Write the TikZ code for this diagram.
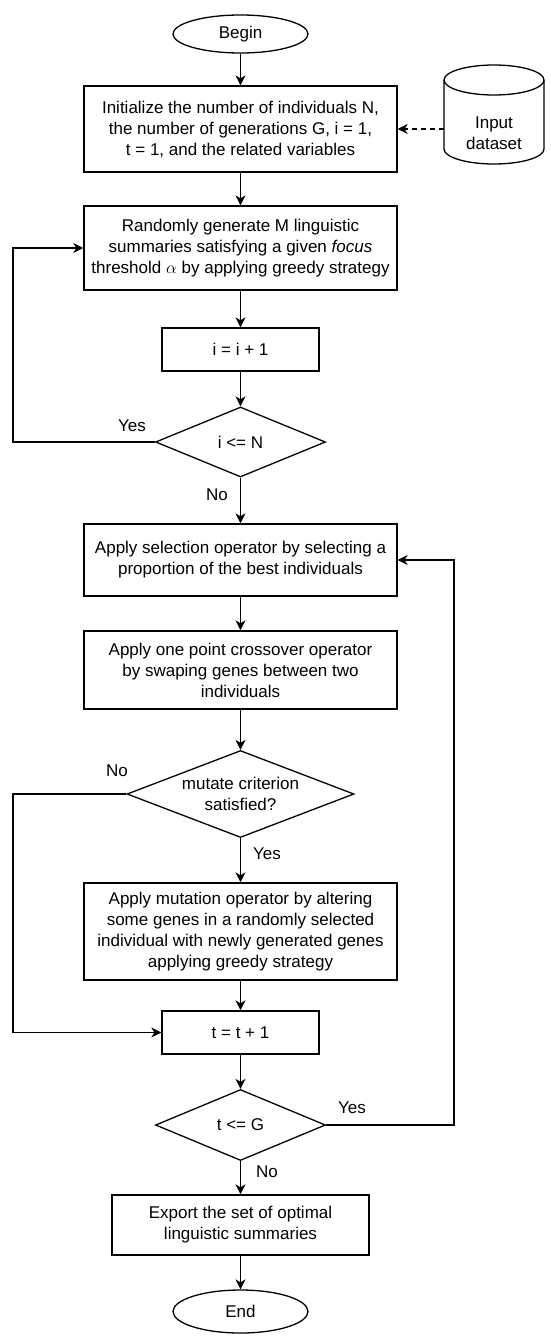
\documentclass[tikz,border=0pt]{standalone}
\usepackage{fontspec}
\setmainfont{Liberation Sans}
\usetikzlibrary{shapes.geometric,arrows.meta}
\begin{document}
\begin{tikzpicture}[x=1pt,y=-1pt,
  every node/.style={font=\fontsize{17}{21}\selectfont},
  box/.style={draw, line width=1.3pt, rectangle, inner sep=0pt, align=center},
  term/.style={draw, line width=1.3pt, ellipse, inner sep=0pt, minimum width=135pt},
  dec/.style={draw, line width=1.3pt, diamond, inner sep=0pt},
  txt/.style={align=center, inner sep=0pt},
  arr/.style={line width=1.3pt, -{Stealth[length=10pt,width=10pt,inset=3pt]}},
  line/.style={line width=1.3pt}]
\fill[white] (0,0) rectangle (550,1341);
\useasboundingbox (0,0) rectangle (550,1341);

% nodes
\node[term, minimum height=38pt] (begin) at (240.5,34) {Begin};
\node[box, minimum width=313pt, minimum height=86pt] (init) at (240.5,129)
  {Initialize the number of individuals N,\\the number of generations G, i = 1,\\t = 1, and the related variables};

% cylinder
\draw[line] (444,80) -- (444,149) arc[start angle=180,end angle=360,x radius=50pt,y radius=15pt] -- (544,80);
\draw[line] (494,80) ellipse[x radius=50pt, y radius=15pt];
\node[minimum width=100pt, minimum height=99pt, inner sep=0pt] (data) at (494,114.5) {};
\node[txt] (datatext) at (494,133) {Input\\dataset};

\node[box, minimum width=313pt, minimum height=84pt] (rand) at (240.5,248)
  {Randomly generate M linguistic\\summaries satisfying a given \textit{focus}\\threshold $\alpha$ by applying greedy strategy};
\node[box, minimum width=157pt, minimum height=43pt] (inci) at (240.5,349.5) {i = i + 1};
\node[dec, minimum width=170pt, minimum height=70pt] (dN) at (240.5,442) {};
\node[txt] (dNt) at (dN) {i <= N};

\node[box, minimum width=313pt, minimum height=72pt] (sel) at (240.5,560)
  {Apply selection operator by selecting a\\proportion of the best individuals};
\node[box, minimum width=313pt, minimum height=78pt] (cross) at (240.5,670)
  {Apply one point crossover operator\\by swaping genes between two\\individuals};
\node[dec, minimum width=227pt, minimum height=87pt] (dmut) at (240.5,794) {};
\node[txt] (dmutt) at (dmut) {mutate criterion\\satisfied?};
\node[box, minimum width=313pt, minimum height=97pt] (mut) at (240.5,931.5)
  {Apply mutation operator by altering\\some genes in a randomly selected\\individual with newly generated genes\\applying greedy strategy};
\node[box, minimum width=157pt, minimum height=43pt] (inct) at (240.5,1032.5) {t = t + 1};
\node[dec, minimum width=170pt, minimum height=71pt] (dG) at (240.5,1125) {};
\node[txt] (dGt) at (dG) {t <= G};
\node[box, minimum width=257pt, minimum height=60pt] (exp) at (240.5,1225)
  {Export the set of optimal\\linguistic summaries};
\node[term, minimum height=43pt] (end) at (240.5,1311.5) {End};

% labels
\node[txt] (yes1) at (132,426) {Yes};
\node[txt] (no1) at (217,495) {No};
\node[txt] (no2) at (117,771) {No};
\node[txt] (yes2) at (267,854) {Yes};
\node[txt] (yes3) at (352,1108) {Yes};
\node[txt] (no3) at (267,1172) {No};

% coordinates for loops
\coordinate (L1) at (13,442);
\coordinate (L2) at (13,794);
\coordinate (R1) at (454,1125);

% connectors
\draw[arr, dash pattern=on 5pt off 4pt] (data.west |- init.east) -- (init.east);
\draw[arr] (begin.south) -- (init.north);
\draw[arr] (init.south) -- (rand.north);
\draw[arr] (rand.south) -- (inci.north);
\draw[arr] (inci.south) -- (dN.north);
\draw[arr] (dN.south) -- (sel.north);
\draw[arr] (sel.south) -- (cross.north);
\draw[arr] (cross.south) -- (dmut.north);
\draw[arr] (dmut.south) -- (mut.north);
\draw[arr] (mut.south) -- (inct.north);
\draw[arr] (inct.south) -- (dG.north);
\draw[arr] (dG.south) -- (exp.north);
\draw[arr] (exp.south) -- (end.north);
\draw[arr] (dN.west) -- (L1) |- (rand.west);
\draw[arr] (dmut.west) -- (L2) |- (inct.west);
\draw[arr] (dG.east) -- (R1) |- (sel.east);
\end{tikzpicture}
\end{document}
